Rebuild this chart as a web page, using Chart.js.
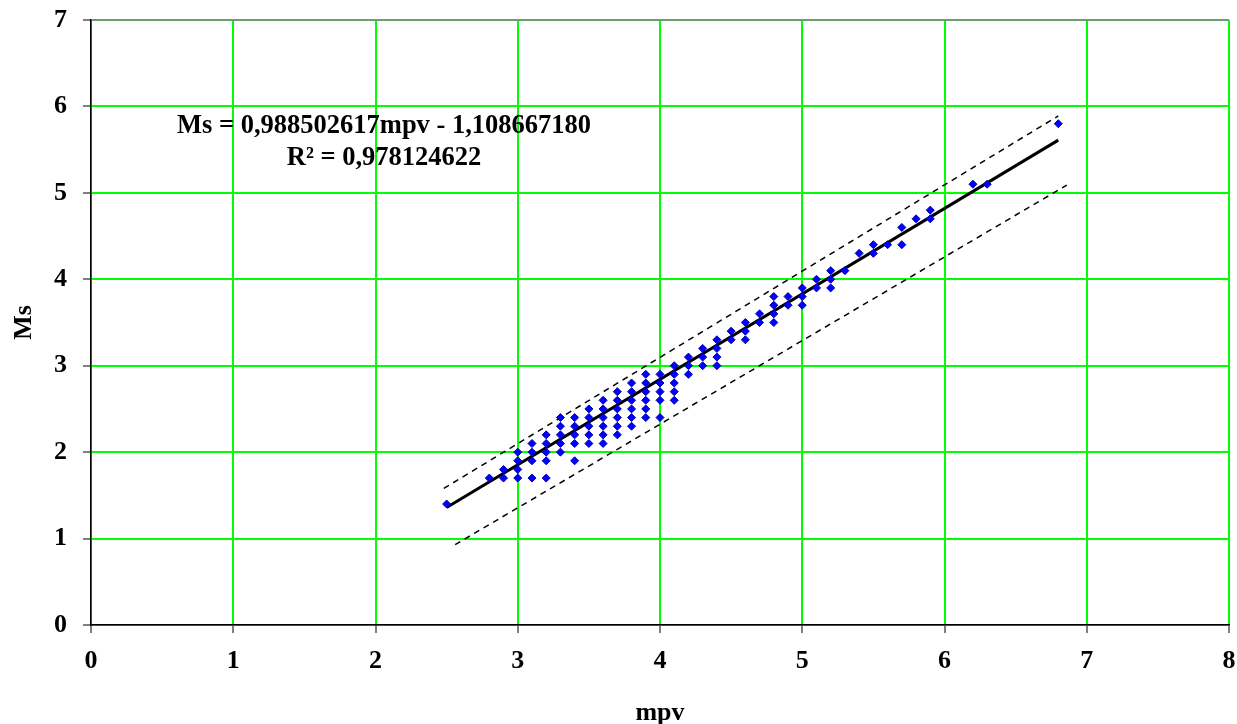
<!DOCTYPE html>
<html>
<head>
<meta charset="utf-8">
<script src="https://cdn.jsdelivr.net/npm/chart.js@4/dist/chart.umd.min.js"></script>
<style>
  html, body { margin: 0; padding: 0; background: #fff; }
  #wrap { width: 1237px; height: 724px; }
</style>
</head>
<body>
<div id="wrap"><canvas id="grafico"></canvas></div>
<script>
// pontos medidos (mpv, Ms)
var mpv = [
  2.5, 2.8, 2.9, 2.9,
  3.0, 3.0, 3.0, 3.0, 3.1, 3.1, 3.1, 3.1,
  3.2, 3.2, 3.2, 3.2, 3.2, 3.3, 3.3, 3.3, 3.3, 3.3,
  3.4, 3.4, 3.4, 3.4, 3.4, 3.5, 3.5, 3.5, 3.5, 3.5,
  3.6, 3.6, 3.6, 3.6, 3.6, 3.6, 3.7, 3.7, 3.7, 3.7, 3.7, 3.7,
  3.8, 3.8, 3.8, 3.8, 3.8, 3.8, 3.9, 3.9, 3.9, 3.9, 3.9, 3.9,
  4.0, 4.0, 4.0, 4.0, 4.0, 4.1, 4.1, 4.1, 4.1, 4.1,
  4.2, 4.2, 4.2, 4.3, 4.3, 4.3, 4.4, 4.4, 4.4, 4.4,
  4.5, 4.5, 4.6, 4.6, 4.6, 4.7, 4.7, 4.8, 4.8, 4.8, 4.8,
  4.9, 4.9, 5.0, 5.0, 5.0, 5.1, 5.1, 5.2, 5.2, 5.2,
  5.3, 5.4, 5.5, 5.5, 5.6, 5.7, 5.7, 5.8, 5.9, 5.9,
  6.2, 6.3, 6.8
];
var ms = [
  1.4, 1.7, 1.8, 1.7,
  2.0, 1.9, 1.8, 1.7, 2.1, 2.0, 1.9, 1.7,
  2.2, 2.1, 2.0, 1.9, 1.7, 2.4, 2.3, 2.2, 2.1, 2.0,
  2.4, 2.3, 2.2, 2.1, 1.9, 2.5, 2.4, 2.3, 2.2, 2.1,
  2.6, 2.5, 2.4, 2.3, 2.2, 2.1, 2.7, 2.6, 2.5, 2.4, 2.3, 2.2,
  2.8, 2.7, 2.6, 2.5, 2.4, 2.3, 2.9, 2.8, 2.7, 2.6, 2.5, 2.4,
  2.9, 2.8, 2.7, 2.6, 2.4, 3.0, 2.9, 2.8, 2.7, 2.6,
  3.1, 3.0, 2.9, 3.2, 3.1, 3.0, 3.3, 3.2, 3.1, 3.0,
  3.4, 3.3, 3.5, 3.4, 3.3, 3.6, 3.5, 3.8, 3.7, 3.6, 3.5,
  3.8, 3.7, 3.9, 3.8, 3.7, 4.0, 3.9, 4.1, 4.0, 3.9,
  4.1, 4.3, 4.4, 4.3, 4.4, 4.6, 4.4, 4.7, 4.8, 4.7,
  5.1, 5.1, 5.8
];

// linha de tendencia e limites (pontas)
var trendX = [2.5, 6.8];
var trendY = [1.36, 5.61];
var upperX = [2.48, 6.8];
var upperY = [1.58, 5.89];
var lowerX = [2.56, 6.86];
var lowerY = [0.93, 5.09];

var xTicks = [0, 1, 2, 3, 4, 5, 6, 7, 8];
var yTicks = [0, 1, 2, 3, 4, 5, 6, 7];

var equationText = 'Ms = 0,988502617mpv - 1,108667180';
var r2Text = 'R\u00b2 = 0,978124622';

function pares(xs, ys) {
  var out = [];
  for (var i = 0; i < xs.length; i++) out.push({ x: xs[i], y: ys[i] });
  return out;
}

var fonte = 'Liberation Serif, Times New Roman, serif';

// escreve a equacao e o R2 sobre o grafico
var equacaoPlugin = {
  id: 'equacao',
  afterDatasetsDraw: function(chart) {
    var ctx = chart.ctx;
    var sx = chart.scales.x, sy = chart.scales.y;
    ctx.save();
    ctx.font = 'bold 26.5px ' + fonte;
    ctx.fillStyle = '#000';
    ctx.textAlign = 'center';
    ctx.textBaseline = 'alphabetic';
    var cx = sx.getPixelForValue(2.06);
    ctx.fillText(equationText, cx, sy.getPixelForValue(5.69));
    ctx.fillText(r2Text, cx, sy.getPixelForValue(5.32));
    ctx.restore();
  }
};

var ctx = document.getElementById('grafico').getContext('2d');
var meuGrafico = new Chart(ctx, {
  type: 'scatter',
  data: {
    datasets: [{
      label: 'Ms',
      data: pares(mpv, ms),
      pointStyle: 'rectRot',
      pointRadius: 4,
      backgroundColor: '#0000ff',
      borderColor: '#0000b0',
      borderWidth: 1
    }, {
      label: 'tendencia',
      data: pares(trendX, trendY),
      showLine: true,
      borderColor: '#000',
      borderWidth: 3,
      pointRadius: 0
    }, {
      label: 'superior',
      data: pares(upperX, upperY),
      showLine: true,
      borderColor: '#000',
      borderWidth: 1.5,
      borderDash: [6, 5],
      pointRadius: 0
    }, {
      label: 'inferior',
      data: pares(lowerX, lowerY),
      showLine: true,
      borderColor: '#000',
      borderWidth: 1.5,
      borderDash: [6, 5],
      pointRadius: 0
    }]
  },
  options: {
    responsive: true,
    maintainAspectRatio: false,
    animation: false,
    layout: { padding: { top: 20, right: 8, left: 0, bottom: 0 } },
    plugins: {
      legend: { display: false },
      tooltip: { enabled: false }
    },
    scales: {
      x: {
        type: 'linear',
        min: 0,
        max: 8,
        afterBuildTicks: function(scale) {
          scale.ticks = xTicks.map(function(v) { return { value: v }; });
        },
        afterFit: function(scale) {
          scale.height = 99;
          scale.paddingLeft = 0;
          scale.paddingRight = 0;
        },
        ticks: {
          padding: 13,
          color: '#000',
          font: { family: fonte, size: 26, weight: 'bold' }
        },
        grid: {
          color: '#00ff00',
          lineWidth: 2,
          tickColor: '#000',
          tickLength: 8,
          tickWidth: 1
        },
        border: { color: '#000', width: 1.5 },
        title: {
          display: true,
          text: 'mpv',
          color: '#000',
          font: { family: fonte, size: 26, weight: 'bold', lineHeight: 1 },
          padding: { top: 0, bottom: -2 }
        }
      },
      y: {
        type: 'linear',
        min: 0,
        max: 7,
        afterBuildTicks: function(scale) {
          scale.ticks = yTicks.map(function(v) { return { value: v }; });
        },
        afterFit: function(scale) {
          scale.width = 91;
          scale.paddingTop = 0;
          scale.paddingBottom = 0;
        },
        ticks: {
          padding: 16,
          color: '#000',
          font: { family: fonte, size: 26, weight: 'bold' }
        },
        grid: {
          color: function(c) {
            return c.tick && c.tick.value === 7 ? '#6a9f6a' : '#00ff00';
          },
          lineWidth: 2,
          tickColor: '#000',
          tickLength: 8,
          tickWidth: 1
        },
        border: { color: '#000', width: 1.5 },
        title: {
          display: true,
          text: 'Ms',
          color: '#000',
          font: { family: fonte, size: 26, weight: 'bold', lineHeight: 1.2 },
          padding: { top: 9, bottom: 9 }
        }
      }
    }
  },
  plugins: [equacaoPlugin]
});
</script>
</body>
</html>
